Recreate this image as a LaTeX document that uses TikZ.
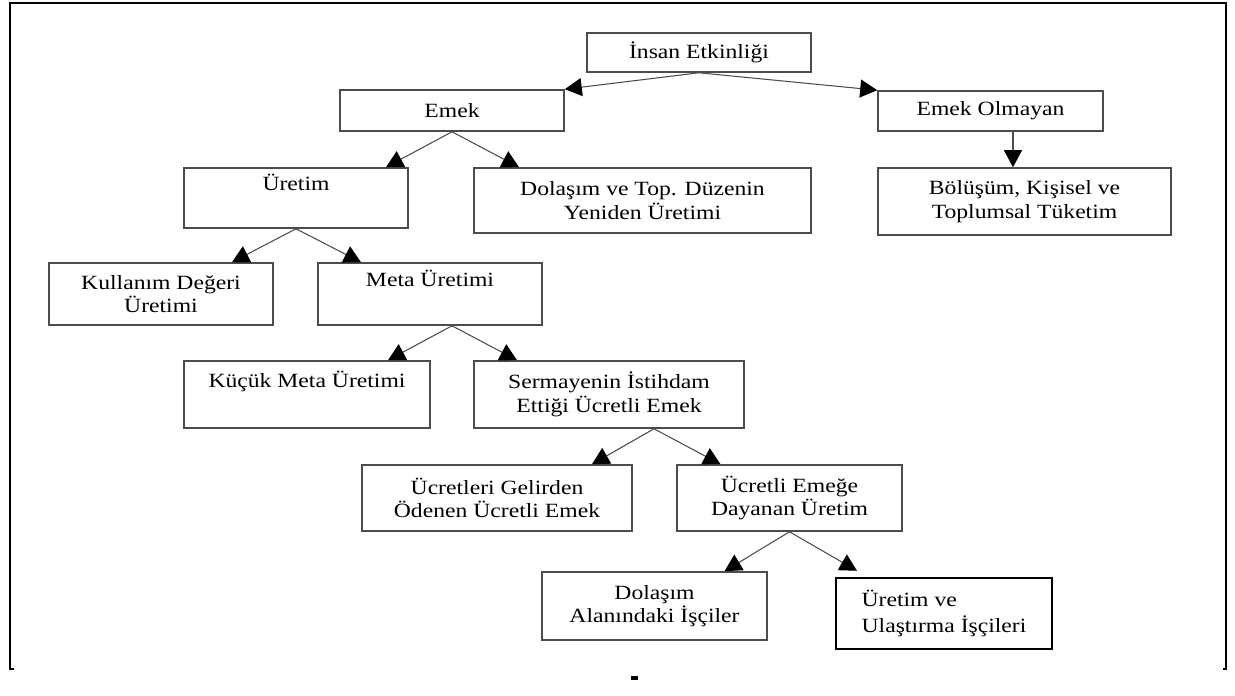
\documentclass[tikz,border=0pt]{standalone}
\usepackage{fontspec}
\setmainfont{Liberation Serif}[FakeStretch=1.17]
\usetikzlibrary{arrows.meta,calc}
\begin{document}
\begin{tikzpicture}[
  box/.style={draw=black!70,line width=0.9pt,rectangle,align=center,inner sep=2pt,
    font=\fontsize{11.5}{13.3}\selectfont},
  arr/.style={black!70,line width=0.6pt,-{Triangle[length=0.34cm,width=0.36cm,color=black]}}]
  \useasboundingbox (0,0) rectangle (24.7,13.9);
  \draw [black,line width=0.9pt] (0.28,0.52) -- (0.2,0.52) -- (0.2,13.84) -- (24.52,13.84) -- (24.52,0.52) -- (24.46,0.52);
  \fill [black] (12.62,0.3) rectangle (12.76,0.38);
  \node [box,minimum width=4.48cm,minimum height=0.78cm] (ins) at (13.98,12.85) {İnsan Etkinliği};
  \node [box,minimum width=4.48cm,minimum height=0.82cm] (emek) at (9.04,11.69) {Emek};
  \node [box,minimum width=4.5cm,minimum height=0.8cm] (emekol) at (19.81,11.68) {Emek Olmayan};
  \node [box,minimum width=4.48cm,minimum height=1.2cm] (uretim) at (5.92,9.94) {Üretim\\\strut};
  \node [box,minimum width=6.74cm,minimum height=1.3cm] (dolasim) at (12.85,9.89) {Dolaşım ve Top. Düzenin\\Yeniden Üretimi};
  \node [box,minimum width=5.86cm,minimum height=1.34cm] (bolusum) at (20.49,9.87) {Bölüşüm, Kişisel ve\\Toplumsal Tüketim};
  \node [box,minimum width=4.48cm,minimum height=1.24cm] (kullanim) at (3.22,8.02) {Kullanım Değeri\\Üretimi};
  \node [box,minimum width=4.48cm,minimum height=1.24cm] (meta) at (8.6,8.02) {Meta Üretimi\\\strut};
  \node [box,minimum width=4.92cm,minimum height=1.34cm] (kucuk) at (6.14,6.01) {Küçük Meta Üretimi\\\strut};
  \node [box,minimum width=5.4cm,minimum height=1.34cm] (sermaye) at (12.18,6.01) {Sermayenin İstihdam\\Ettiği Ücretli Emek};
  \node [box,minimum width=5.4cm,minimum height=1.32cm] (ucretleri) at (9.94,3.94) {Ücretleri Gelirden\\Ödenen Ücretli Emek};
  \node [box,minimum width=4.5cm,minimum height=1.32cm] (ucretli) at (15.79,3.94) {Ücretli Emeğe\\Dayanan Üretim};
  \node [box,minimum width=4.5cm,minimum height=1.36cm] (dolal) at (13.09,1.78) {Dolaşım\\Alanındaki İşçiler};
  \node [box,draw=black,line width=1.4pt,align=left,font=\fontsize{11.5}{14.8}\selectfont,
    minimum width=4.32cm,minimum height=1.42cm] (uretimve) at (18.88,1.63) {Üretim ve\\Ulaştırma İşçileri};
  \draw [arr] (ins.south) -- (emek.north east);
  \draw [arr] (ins.south) -- (emekol.north west);
  \draw [arr] (emek.south) -- ($(uretim.north)+(1.8,0)$);
  \draw [arr] (emek.south) -- ($(dolasim.north)+(-2.47,0)$);
  \coordinate (eo) at ($(emekol.south)+(0.45,0)$);
  \draw [arr] (eo) -- (eo |- bolusum.north);
  \draw [arr] (uretim.south) -- ($(kullanim.north)+(1.42,0)$);
  \draw [arr] (uretim.south) -- ($(meta.north)+(-1.38,0)$);
  \coordinate (mt) at ($(meta.south)+(0.44,0)$);
  \draw [arr] (mt) -- ($(kucuk.north)+(1.62,0)$);
  \draw [arr] (mt) -- ($(sermaye.north)+(-1.84,0)$);
  \coordinate (sr) at ($(sermaye.south)+(0.9,0)$);
  \draw [arr] (sr) -- ($(ucretleri.north)+(1.9,0)$);
  \draw [arr] (sr) -- ($(ucretli.north)+(-1.38,0)$);
  \draw [arr] (ucretli.south) -- ($(dolal.north)+(1.4,0)$);
  \draw [arr] (ucretli.south) -- ($(uretimve.north)+(-1.74,0.12)$);
\end{tikzpicture}
\end{document}
